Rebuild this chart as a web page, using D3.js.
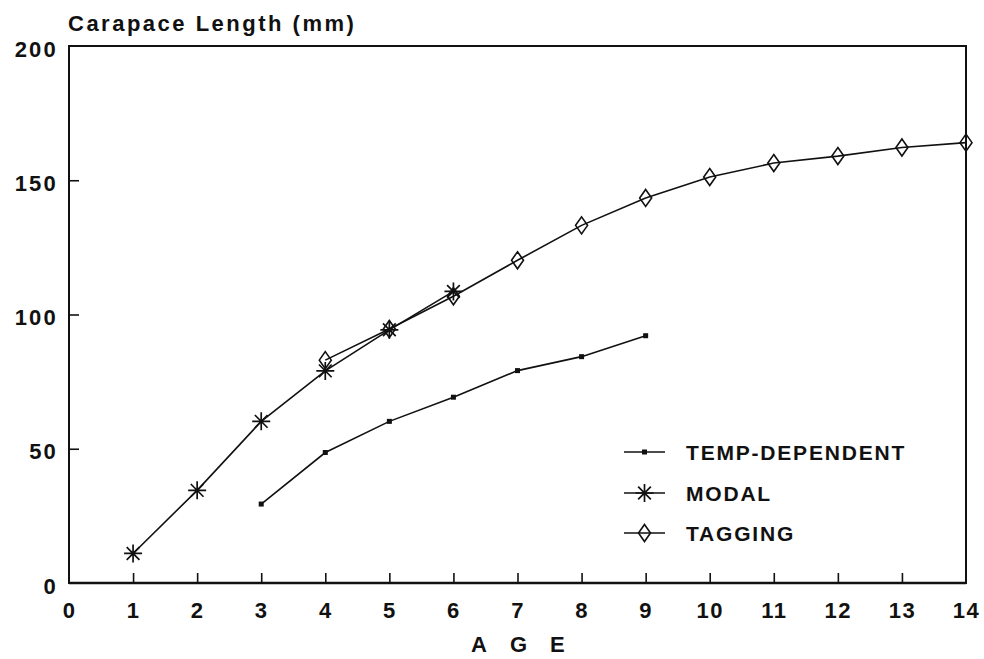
<!DOCTYPE html>
<html>
<head>
<meta charset="utf-8">
<script src="https://cdn.jsdelivr.net/npm/d3@7"></script>
<style>
  html, body { margin: 0; padding: 0; background: #fff; }
  svg { display: block; }
  text { font-family: "Liberation Sans", Arial, Helvetica, sans-serif; font-weight: bold; fill: #111; }
</style>
</head>
<body>
<svg id="chart" width="984" height="659"></svg>
<script>
// Growth curves: carapace length by age, three estimation methods
const tempAges = [3, 4, 5, 6, 7, 8, 9];
const tempValues = [29.4, 48.6, 60.2, 69.2, 79.1, 84.3, 92.1];

const modalAges = [1, 2, 3, 4, 5, 6];
const modalValues = [11, 34.5, 60.2, 79, 94.3, 108.6];

const taggingAges = [4, 5, 6, 7, 8, 9, 10, 11, 12, 13, 14];
const taggingValues = [83, 94.6, 106.8, 120.2, 133.2, 143.4, 151.2, 156.4, 159, 162.2, 164];

const xTicks = [0, 1, 2, 3, 4, 5, 6, 7, 8, 9, 10, 11, 12, 13, 14];
const yTicks = [0, 50, 100, 150, 200];

const legendLabels = ["TEMP-DEPENDENT", "MODAL", "TAGGING"];

const svg = d3.select("#chart");
const plotL = 69, plotR = 966, plotT = 46, plotB = 583;

const x = d3.scaleLinear().domain([0, 14]).range([plotL, plotR]);
const y = d3.scaleLinear().domain([0, 200]).range([plotB, plotT]);

// frame
svg.append("rect")
  .attr("x", plotL).attr("y", plotT)
  .attr("width", plotR - plotL).attr("height", plotB - plotT)
  .attr("fill", "none").attr("stroke", "#111").attr("stroke-width", 2);
svg.append("line")
  .attr("x1", plotL).attr("x2", plotR).attr("y1", plotB).attr("y2", plotB)
  .attr("stroke", "#111").attr("stroke-width", 2.6);

// x axis: inward ticks, labels below
const xAxis = d3.axisBottom(x).tickValues(xTicks).tickSize(0).tickPadding(0).tickFormat(d3.format("d"));
const gx = svg.append("g").attr("transform", `translate(0,${plotB})`).call(xAxis);
gx.select(".domain").remove();
gx.selectAll(".tick text")
  .attr("y", 34.5).attr("dy", null)
  .style("font-size", "22px").style("letter-spacing", "1.5px")
  .attr("fill", "#111");
gx.selectAll(".tick")
  .filter(d => d > 0 && d < 14)
  .append("line").attr("y1", 0).attr("y2", -10)
  .attr("stroke", "#111").attr("stroke-width", 1.6);

// y axis: inward ticks, labels at left
const yAxis = d3.axisLeft(y).tickValues(yTicks).tickSize(0).tickPadding(0).tickFormat(d3.format("d"));
const gy = svg.append("g").attr("transform", `translate(${plotL},0)`).call(yAxis);
gy.select(".domain").remove();
gy.selectAll(".tick text")
  .attr("x", -11).attr("dy", "0.46em")
  .style("font-size", "22px").style("letter-spacing", "2.2px")
  .attr("fill", "#111");
gy.selectAll(".tick")
  .filter(d => d > 0 && d < 200)
  .append("line").attr("x1", 0).attr("x2", 10)
  .attr("stroke", "#111").attr("stroke-width", 1.6);

// titles
svg.append("text")
  .attr("x", 68).attr("y", 31)
  .style("font-size", "22px").style("letter-spacing", "2.5px")
  .text("Carapace Length (mm)");

svg.append("text")
  .attr("x", 471).attr("y", 652)
  .style("font-size", "22px").style("letter-spacing", "23px")
  .text("AGE");

// series lines
const line = d3.line().x(d => x(d[0])).y(d => y(d[1]));
const seriesPts = [
  d3.zip(tempAges, tempValues),
  d3.zip(modalAges, modalValues),
  d3.zip(taggingAges, taggingValues)
];
seriesPts.forEach(pts => {
  svg.append("path").datum(pts).attr("d", line)
    .attr("fill", "none").attr("stroke", "#111").attr("stroke-width", 1.6);
});

// markers
function square(g, cx, cy, s) {
  g.append("rect").attr("x", cx - s / 2).attr("y", cy - s / 2)
    .attr("width", s).attr("height", s).attr("fill", "#111");
}
function star(g, cx, cy, r) {
  const p = d3.path();
  for (let k = 0; k < 4; k++) {
    const a = k * Math.PI / 4;
    p.moveTo(cx - r * Math.cos(a), cy - r * Math.sin(a));
    p.lineTo(cx + r * Math.cos(a), cy + r * Math.sin(a));
  }
  g.append("path").attr("d", p.toString()).attr("stroke", "#111").attr("stroke-width", 1.7).attr("fill", "none");
}
function diamond(g, cx, cy, w, h) {
  g.append("path")
    .attr("d", `M${cx},${cy - h}L${cx + w},${cy}L${cx},${cy + h}L${cx - w},${cy}Z`)
    .attr("fill", "none").attr("stroke", "#111").attr("stroke-width", 1.6);
}

const marks = svg.append("g");
seriesPts[0].forEach(d => square(marks, x(d[0]), y(d[1]), 5));
seriesPts[1].forEach(d => star(marks, x(d[0]), y(d[1]), 9));
seriesPts[2].forEach(d => diamond(marks, x(d[0]), y(d[1]), 6, 8.5));

// legend
const legRows = [452, 493, 533];
const lg = svg.append("g");
legendLabels.forEach((lab, i) => {
  const ly = legRows[i];
  lg.append("line").attr("x1", 624).attr("x2", 665).attr("y1", ly).attr("y2", ly)
    .attr("stroke", "#111").attr("stroke-width", 1.6);
  if (i === 0) square(lg, 644.5, ly, 5);
  if (i === 1) star(lg, 644.5, ly, 9);
  if (i === 2) diamond(lg, 644.5, ly, 6, 8.5);
  lg.append("text").attr("x", 686).attr("y", ly + 8)
    .style("font-size", "21px").style("letter-spacing", "1.8px")
    .text(lab);
});
</script>
</body>
</html>
